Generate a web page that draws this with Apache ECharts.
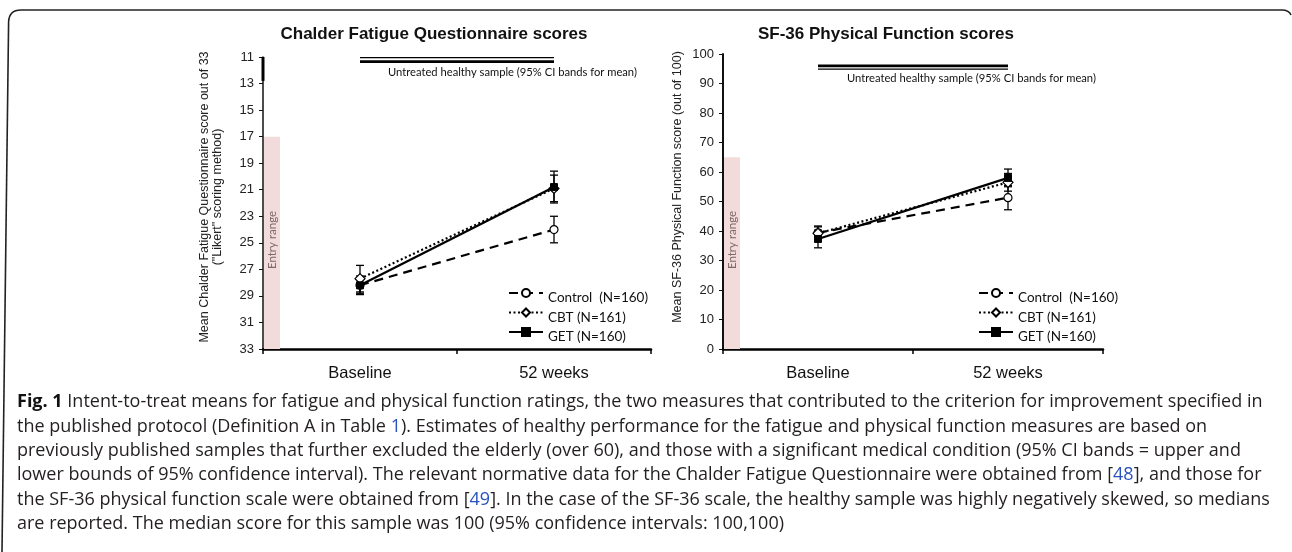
<!DOCTYPE html>
<html><head><meta charset="utf-8">
<script src="https://cdn.jsdelivr.net/npm/echarts@6/dist/echarts.min.js"></script>
<style>html,body{margin:0;padding:0;background:#fff}#c{width:1292px;height:552px}</style>
</head><body><div id="c"></div>
<script>
// ---------- data ----------
const categories = ['Baseline', '52 weeks'];
const legendNames = ['Control  (N=160)', 'CBT (N=161)', 'GET (N=160)'];

// Chalder Fatigue Questionnaire (inverted axis 11..33)
const cfqControl = [28.2, 24.0];
const cfqControlLow = [27.6, 23.0];
const cfqControlHigh = [28.8, 25.0];
const cfqCBT = [27.7, 20.9];
const cfqCBTLow = [26.7, 19.9];
const cfqCBTHigh = [28.7, 21.9];
const cfqGET = [28.2, 20.8];
const cfqGETLow = [27.5, 19.6];
const cfqGETHigh = [28.9, 22.0];
const cfqHealthyUpper = [11.05, 11.05];
const cfqHealthyLower = [11.35, 11.35];
const cfqEntryRange = [17, 33];
const cfqAxisAccent = [11, 12.8];

// SF-36 Physical Function (0..100)
const sfControl = [39.4, 51.3];
const sfControlLow = [37.1, 47.2];
const sfControlHigh = [41.7, 55.4];
const sfCBT = [39.2, 56.5];
const sfCBTLow = [37.0, 53.5];
const sfCBTHigh = [41.4, 59.5];
const sfGET = [37.3, 58.0];
const sfGETLow = [34.3, 55.0];
const sfGETHigh = [40.3, 61.0];
const sfHealthyUpper = [96, 96];
const sfHealthyLower = [94.9, 94.9];
const sfEntryRange = [0, 65];

const titles = ['Chalder Fatigue Questionnaire scores', 'SF-36 Physical Function scores'];
const yNames = ['Mean Chalder Fatigue Questionnaire score out of 33\n("Likert" scoring method)',
                'Mean SF-36 Physical Function score (out of 100)'];
const healthyText = 'Untreated healthy sample (95% CI bands for mean)';
const captionLines = [
  '{b|Fig. 1} Intent-to-treat means for fatigue and physical function ratings, the two measures that contributed to the criterion for improvement specified in',
  'the published protocol (Definition A in Table {l|1}). Estimates of healthy performance for the fatigue and physical function measures are based on',
  'previously published samples that further excluded the elderly (over 60), and those with a significant medical condition (95% CI bands = upper and',
  'lower bounds of 95% confidence interval). The relevant normative data for the Chalder Fatigue Questionnaire were obtained from [{l|48}], and those for',
  'the SF-36 physical function scale were obtained from [{l|49}]. In the case of the SF-36 scale, the healthy sample was highly negatively skewed, so medians',
  'are reported. The median score for this sample was 100 (95% confidence intervals: 100,100)'
];

// ---------- helpers ----------
const AX = 'Liberation Sans, Arial, sans-serif';
const CAL = 'Lato, Carlito, sans-serif';
const CAP = '"Open Sans", sans-serif';

function errData(low, high) { return low.map((l, i) => [i, l, high[i]]); }

function errRender(params, api) {
  const x = api.value(0);
  const a = api.coord([x, api.value(1)]);
  const b = api.coord([x, api.value(2)]);
  const w = 4;
  const st = { stroke: '#000', lineWidth: 1.3 };
  return { type: 'group', children: [
    { type: 'line', shape: { x1: a[0], y1: a[1], x2: b[0], y2: b[1] }, style: st },
    { type: 'line', shape: { x1: a[0] - w, y1: a[1], x2: a[0] + w, y2: a[1] }, style: st },
    { type: 'line', shape: { x1: b[0] - w, y1: b[1], x2: b[0] + w, y2: b[1] }, style: st }
  ]};
}

function entryRender(params, api) {
  const cs = params.coordSys;
  const p1 = api.coord([0, api.value(1)]);
  const p2 = api.coord([0, api.value(2)]);
  const y1 = Math.min(p1[1], p2[1]), y2 = Math.max(p1[1], p2[1]);
  const w = 16;
  return { type: 'group', children: [
    { type: 'rect', shape: { x: cs.x + 1, y: y1, width: w, height: y2 - y1 }, style: { fill: '#f2dcdb' } },
    { type: 'text', x: cs.x + 1 + w / 2, y: cs.y + cs.height - 109, rotation: Math.PI / 2,
      style: { text: 'Entry range', fill: '#7d6767', font: '11.5px ' + CAL, align: 'center', verticalAlign: 'middle' } }
  ]};
}

function accentRender(params, api) {
  const cs = params.coordSys;
  const a = api.coord([0, api.value(1)]);
  const b = api.coord([0, api.value(2)]);
  return { type: 'line', shape: { x1: cs.x, y1: a[1], x2: cs.x, y2: b[1] }, style: { stroke: '#000', lineWidth: 3 } };
}

function groupSeries(idx, ctrl, cbt, get, lows, highs, hu, hl, huW, hlW, entry) {
  const base = { xAxisIndex: idx, yAxisIndex: idx };
  const s = [];
  s.push(Object.assign({ type: 'custom', name: 'entry' + idx, renderItem: entryRender, silent: true, z: 1,
    encode: { x: 0, y: [1, 2] }, data: [[0, entry[0], entry[1]]] }, base));
  s.push(Object.assign({ type: 'line', name: 'hu' + idx, data: hu, symbol: 'none', silent: true,
    lineStyle: { color: '#000', width: huW }, z: 2 }, base));
  s.push(Object.assign({ type: 'line', name: 'hl' + idx, data: hl, symbol: 'none', silent: true,
    lineStyle: { color: '#000', width: hlW }, z: 2 }, base));
  s.push(Object.assign({ type: 'line', name: legendNames[0], data: ctrl, symbol: 'circle', symbolSize: 8,
    color: '#000', itemStyle: { color: '#fff', borderColor: '#000', borderWidth: 1.2 },
    lineStyle: { color: '#000', width: 2.2, type: [9, 6] }, z: 4 }, base));
  s.push(Object.assign({ type: 'line', name: legendNames[1], data: cbt, symbol: 'diamond', symbolSize: 10,
    color: '#000', itemStyle: { color: '#fff', borderColor: '#000', borderWidth: 1.2 },
    lineStyle: { color: '#000', width: 2.2, type: [2, 2.5] }, z: 4 }, base));
  s.push(Object.assign({ type: 'line', name: legendNames[2], data: get, symbol: 'rect', symbolSize: 7,
    color: '#000', itemStyle: { color: '#000', borderColor: '#000', borderWidth: 1 },
    lineStyle: { color: '#000', width: 2.2 }, z: 5 }, base));
  for (let k = 0; k < 3; k++) {
    s.push(Object.assign({ type: 'custom', name: 'err' + idx + k, renderItem: errRender, silent: true, z: 3,
      encode: { x: 0, y: [1, 2] }, data: errData(lows[k], highs[k]) }, base));
  }
  return s;
}

const series = []
  .concat(groupSeries(0, cfqControl, cfqCBT, cfqGET,
    [cfqControlLow, cfqCBTLow, cfqGETLow], [cfqControlHigh, cfqCBTHigh, cfqGETHigh],
    cfqHealthyUpper, cfqHealthyLower, 1.3, 2.7, cfqEntryRange))
  .concat(groupSeries(1, sfControl, sfCBT, sfGET,
    [sfControlLow, sfCBTLow, sfGETLow], [sfControlHigh, sfCBTHigh, sfGETHigh],
    sfHealthyUpper, sfHealthyLower, 2.7, 1.3, sfEntryRange));
series.push({ type: 'custom', name: 'accent', xAxisIndex: 0, yAxisIndex: 0, renderItem: accentRender, silent: true, z: 6,
  encode: { x: 0, y: [1, 2] }, data: [[0, cfqAxisAccent[0], cfqAxisAccent[1]]] });

function xAxisCfg(grid) {
  return { type: 'category', gridIndex: grid, data: categories, boundaryGap: true,
    axisLine: { lineStyle: { color: '#000', width: 2.5 } },
    axisTick: { show: true, length: 5, inside: false, lineStyle: { color: '#000', width: 1.5 } },
    axisLabel: { color: '#111', fontFamily: AX, fontSize: 16.5, margin: 16 },
    splitLine: { show: false } };
}
function yAxisCfg(grid, min, max, interval, inverse, lw) {
  return { type: 'value', gridIndex: grid, min: min, max: max, interval: interval, inverse: inverse,
    axisLine: { show: true, lineStyle: { color: '#111', width: lw } },
    axisTick: { show: true, length: 4, lineStyle: { color: '#111', width: 1 } },
    axisLabel: { color: '#222', fontFamily: AX, fontSize: 13, margin: 9 },
    splitLine: { show: false } };
}

const legendCommon = { orient: 'vertical', padding: 0, itemWidth: 34, itemHeight: 10, itemGap: -4.5, data: legendNames,
  formatter: name => '\n' + name,
  textStyle: { color: '#111', fontFamily: CAL, fontSize: 13.5, lineHeight: 10 }, selectedMode: false };

const frameStyle = { stroke: '#222', lineWidth: 1.6, fill: null };
const graphics = [
  { type: 'line', shape: { x1: 2, y1: 552, x2: 8.6, y2: 22 }, style: frameStyle },
  { type: 'bezierCurve', shape: { x1: 8.6, y1: 22, cpx1: 9, cpy1: 10, x2: 21, y2: 10 }, style: frameStyle },
  { type: 'line', shape: { x1: 21, y1: 10, x2: 1282, y2: 10 }, style: frameStyle },
  { type: 'bezierCurve', shape: { x1: 1282, y1: 10, cpx1: 1289, cpy1: 10, x2: 1291, y2: 15 }, style: frameStyle },
  { type: 'text', x: 388, y: 72, style: { text: healthyText, fill: '#111', font: '11.2px ' + CAL, verticalAlign: 'middle' } },
  { type: 'text', x: 847, y: 78, style: { text: healthyText, fill: '#111', font: '11.2px ' + CAL, verticalAlign: 'middle' } },
  { type: 'text', x: 211, y: 197, rotation: Math.PI / 2,
    style: { text: yNames[0], fill: '#222', font: '12.5px ' + AX, align: 'center', verticalAlign: 'middle', lineHeight: 13 } },
  { type: 'text', x: 678, y: 187, rotation: Math.PI / 2,
    style: { text: yNames[1], fill: '#222', font: '12.5px ' + AX, align: 'center', verticalAlign: 'middle' } }
];
captionLines.forEach((t, i) => {
  graphics.push({ type: 'text', x: 17, y: 402 + i * 24.4, style: {
    text: t, fill: '#231f20', font: '18px ' + CAP, verticalAlign: 'middle',
    rich: { b: { fontWeight: 'bold', fill: '#111', fontSize: 18, fontFamily: 'Open Sans' },
            l: { fill: '#2a52be', fontSize: 18, fontFamily: 'Open Sans' } } } });
});

const option = {
  animation: false,
  backgroundColor: '#fff',
  title: [
    { text: titles[0], left: 434, top: 26, textAlign: 'center', padding: 0,
      textStyle: { fontFamily: AX, fontSize: 17, fontWeight: 'bold', color: '#111' } },
    { text: titles[1], left: 886, top: 26, textAlign: 'center', padding: 0,
      textStyle: { fontFamily: AX, fontSize: 17, fontWeight: 'bold', color: '#111' } }
  ],
  grid: [
    { left: 263, right: 641, top: 57, bottom: 203, containLabel: false },
    { left: 723, right: 189, top: 54, bottom: 203, containLabel: false }
  ],
  xAxis: [xAxisCfg(0), xAxisCfg(1)],
  yAxis: [yAxisCfg(0, 11, 33, 2, true, 1.5), yAxisCfg(1, 0, 100, 10, false, 2)],
  legend: [Object.assign({ left: 508, top: 281 }, legendCommon), Object.assign({ left: 978, top: 281 }, legendCommon)],
  series: series,
  graphic: graphics
};

const chart = echarts.init(document.getElementById('c'), null, { renderer: 'canvas' });
chart.setOption(option);
</script></body></html>
